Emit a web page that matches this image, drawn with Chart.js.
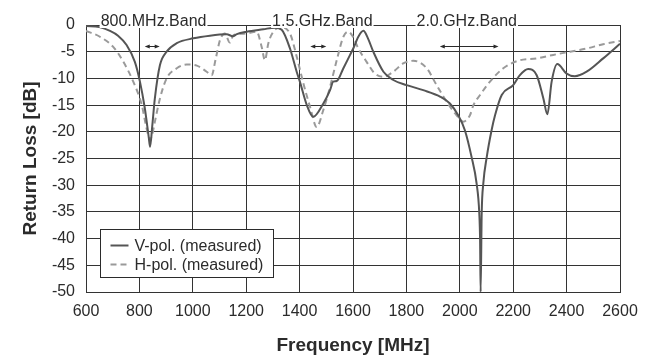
<!DOCTYPE html>
<html>
<head>
<meta charset="utf-8">
<script src="https://cdn.jsdelivr.net/npm/chart.js@4.4.1/dist/chart.umd.min.js"></script>
<style>
  body { margin: 0; background: #ffffff; }
</style>
</head>
<body>
<canvas id="graph" width="652" height="358"></canvas>
<script>
// V-pol (measured), solid line
let vFreq = [600, 650, 690, 720, 752, 783, 802, 820, 835, 840, 848, 858, 877, 902, 940, 1002,
             1064, 1127, 1150, 1165, 1202, 1264, 1308, 1333, 1364, 1389, 1401, 1427, 1451, 1489,
             1514, 1526, 1539, 1564, 1589, 1601, 1620, 1639, 1656, 1676, 1714, 1751, 1801, 1863,
             1926, 1963, 1994, 2019, 2044, 2063, 2073, 2076, 2078, 2082, 2088, 2101, 2119, 2132,
             2157, 2200, 2225, 2256, 2288, 2313, 2328, 2344, 2365, 2400, 2431, 2475, 2537, 2600];
let vLoss = [-0.2, -0.4, -1.1, -2.0, -3.75, -6.9, -10.6, -15.5, -21, -22.8, -19, -13.7, -7.5, -5, -3.4, -2.5,
             -2.0, -1.75, -2.1, -1.7, -1.25, -0.8, -0.5, -0.9, -4.4, -8.75, -10.6, -15, -17.2, -14.7,
             -12.2, -10.6, -10.5, -8.1, -5.6, -4.4, -2.2, -1.1, -2.5, -5, -8.75, -10.3, -11.25, -12.2,
             -13.4, -14.7, -16.9, -19.7, -24.7, -29.7, -35.3, -40.3, -50, -35.3, -29.7, -24.7, -19.7, -16.9,
             -13.1, -11.25, -9.4, -8.25, -9.4, -13.75, -16.7, -10.6, -7.3, -9.1, -9.6, -8.75, -6.25, -3.5];

// H-pol (measured), dashed line
let hFreq = [600, 652, 702, 740, 777, 809, 827, 840, 848, 858, 877, 902, 940, 977, 1015, 1052,
             1071, 1085, 1102, 1120, 1139, 1152, 1200, 1239, 1258, 1270, 1283, 1302, 1327, 1364,
             1389, 1414, 1439, 1464, 1489, 1514, 1539, 1564, 1582, 1600, 1620, 1651, 1682, 1714,
             1751, 1788, 1826, 1876, 1913, 1951, 1988, 2013, 2038, 2051, 2076, 2113, 2163, 2225,
             2288, 2350, 2413, 2475, 2537, 2600];
let hLoss = [-1.1, -2.2, -4.1, -6.9, -10.6, -15, -19.4, -21.5, -20.5, -18.1, -13.75, -10, -8.1, -7.4, -7.6, -8.75,
             -9.4, -6.5, -2.8, -1.6, -3.3, -1.9, -1.6, -1.25, -4.1, -6.6, -3.4, -1.25, -0.4, -1.6,
             -5.9, -10.9, -15.3, -19.1, -15.9, -11.6, -6.6, -2.2, -1.25, -2.2, -4.4, -6.9, -9.1, -9.7,
             -8.75, -7.2, -6.7, -8.1, -11.25, -14.4, -16.9, -18.1, -16.9, -15, -13.1, -10.6, -8.1, -6.6,
             -6.25, -5.6, -5, -4.4, -3.6, -3.0];

// band labels on the top border and their ranges (arrows)
let bandNames  = ["800.MHz.Band", "1.5.GHz.Band", "2.0.GHz.Band"];
let bandCenter = [853, 1485, 2026];
let bandStart  = [820, 1440, 1925];
let bandEnd    = [876, 1500, 2145];
let arrowLevel = -4;

let xTicks = [600, 2600, 200];   // min, max, step
let yTicks = [-50, 0, 5];

let legendNames = ["V-pol. (measured)", "H-pol. (measured)"];

let font = "'Liberation Sans', Arial, Helvetica, sans-serif";
let ink = "#2b2b2b";

/**********/
function points(xs, ys)
{
    let out = [];
    for(let i=0; i<xs.length; i++) { out.push({ x: xs[i], y: ys[i] }); }
    return out;
}

/**********/
const bandPlugin =
{
    id: "bands",
    afterDatasetsDraw(chart)
    {
        let ctx = chart.ctx;
        let xs = chart.scales.x;
        let ys = chart.scales.y;
        let top = chart.chartArea.top;

        ctx.save();
        ctx.font = "16px " + font;
        ctx.textAlign = "center";
        ctx.textBaseline = "alphabetic";

        for(let i=0; i<bandNames.length; i++)
        {
            let cx = xs.getPixelForValue(bandCenter[i]);
            let w = ctx.measureText(bandNames[i]).width;

            ctx.fillStyle = "#ffffff";
            ctx.fillRect(cx - w/2 - 1, top - 3, w + 2, 6);

            ctx.fillStyle = ink;
            ctx.fillText(bandNames[i], cx, top + 1);

            //arrow
            let x0 = xs.getPixelForValue(bandStart[i]);
            let x1 = xs.getPixelForValue(bandEnd[i]);
            let y = Math.round(ys.getPixelForValue(arrowLevel)) + 0.5;

            ctx.strokeStyle = ink;
            ctx.lineWidth = 1;
            ctx.beginPath();
            ctx.moveTo(x0 + 2, y);
            ctx.lineTo(x1 - 2, y);
            ctx.stroke();

            ctx.beginPath();
            ctx.moveTo(x0, y); ctx.lineTo(x0 + 5, y - 2); ctx.lineTo(x0 + 5, y + 2); ctx.closePath();
            ctx.moveTo(x1, y); ctx.lineTo(x1 - 5, y - 2); ctx.lineTo(x1 - 5, y + 2); ctx.closePath();
            ctx.fillStyle = ink;
            ctx.fill();
        }
        ctx.restore();
    }
};

/**********/
const legendPlugin =
{
    id: "boxLegend",
    afterDraw(chart)
    {
        let ctx = chart.ctx;
        let area = chart.chartArea;
        let sets = chart.data.datasets;

        ctx.save();
        ctx.font = "16px " + font;

        let w = 0;
        for(let i=0; i<legendNames.length; i++) { w = Math.max(w, ctx.measureText(legendNames[i]).width); }

        let left = area.left + 14.5;
        let top = area.top + 204.5;
        let boxW = Math.round(w + 44);
        let boxH = 48;

        ctx.fillStyle = "#ffffff";
        ctx.fillRect(left, top, boxW, boxH);
        ctx.strokeStyle = ink;
        ctx.lineWidth = 1;
        ctx.strokeRect(left, top, boxW, boxH);

        for(let i=0; i<sets.length; i++)
        {
            let y = top + 16 + i * 19;

            ctx.strokeStyle = sets[i].borderColor;
            ctx.lineWidth = sets[i].borderWidth;
            ctx.setLineDash(sets[i].borderDash || []);
            ctx.beginPath();
            ctx.moveTo(left + 10, y);
            ctx.lineTo(left + 28, y);
            ctx.stroke();
            ctx.setLineDash([]);

            ctx.fillStyle = ink;
            ctx.textBaseline = "middle";
            ctx.fillText(legendNames[i], left + 34, y + 1);
        }
        ctx.restore();
    }
};

/**********/
function displayGraph()
{
    let datasets = [];
    datasets.push({
        label: legendNames[0],
        data: points(vFreq, vLoss),
        borderColor: "#555555",
        borderWidth: 2,
        pointRadius: 0,
        cubicInterpolationMode: "monotone",
        order: 1
    });
    datasets.push({
        label: legendNames[1],
        data: points(hFreq, hLoss),
        borderColor: "#9a9a9a",
        borderWidth: 2,
        borderDash: [6, 4],
        pointRadius: 0,
        cubicInterpolationMode: "monotone",
        order: 2
    });

    const ctx = document.getElementById("graph");

    window.graph = new Chart(ctx,
    {
        type: "line",
        data: { datasets: datasets },
        plugins: [bandPlugin, legendPlugin],
        options:
        {
            responsive: false,
            animation: false,
            layout: { padding: { left: 0, right: 32, top: 25, bottom: 0 } },
            plugins: { legend: { display: false }, tooltip: { enabled: false } },
            scales:
            {
                x:
                {
                    type: "linear",
                    min: xTicks[0], max: xTicks[1],
                    ticks: { stepSize: xTicks[2], color: ink, padding: 10, font: { family: font, size: 16 },
                             callback: function(v) { return String(v); } },
                    grid: { color: "#333333", lineWidth: 1, drawTicks: false },
                    border: { color: "#333333", width: 1 },
                    title: { display: true, text: "Frequency [MHz]", color: ink,
                             font: { family: font, size: 19, weight: "bold" }, padding: { top: 0, bottom: 1 } },
                    afterFit(scale) { scale.height = 66; }
                },
                y:
                {
                    min: yTicks[0], max: yTicks[1],
                    ticks: { stepSize: yTicks[2], color: ink, padding: 11, font: { family: font, size: 16 } },
                    grid: { color: "#333333", lineWidth: 1, drawTicks: false },
                    border: { color: "#333333", width: 1 },
                    title: { display: true, text: "Return Loss [dB]", color: ink,
                             font: { family: font, size: 19, weight: "bold" }, padding: { top: 19, bottom: 0 } },
                    afterFit(scale) { scale.width = 86; }
                }
            }
        }
    });
}

displayGraph();
</script>
</body>
</html>
